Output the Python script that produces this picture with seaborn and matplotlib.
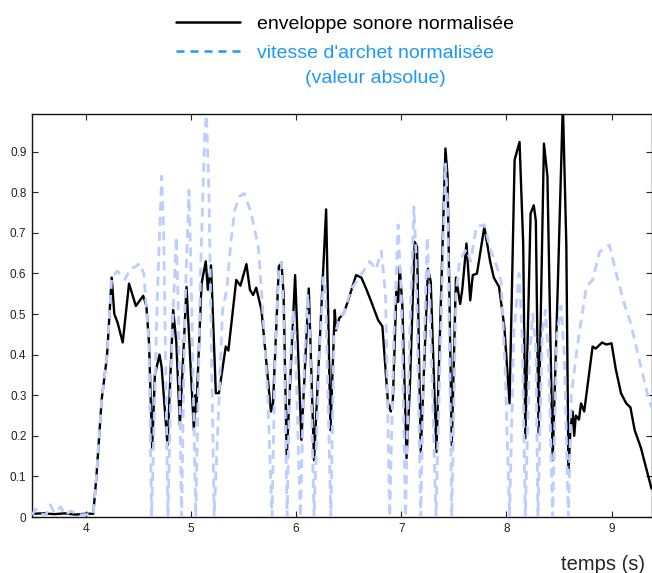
import numpy as np
import pandas as pd
import seaborn as sns
import matplotlib
matplotlib.use("Agg")
import matplotlib.pyplot as plt
from matplotlib.lines import Line2D

# ---------------- data ----------------
env_t = [3.49, 3.6, 3.7, 3.8, 3.9, 4.0, 4.07,
         4.10, 4.15, 4.20, 4.245, 4.27, 4.30, 4.35, 4.41, 4.475, 4.545, 4.575, 4.60, 4.63,
         4.656, 4.70, 4.72, 4.776, 4.83, 4.86, 4.894, 4.957, 4.99, 5.027, 5.04, 5.05,
         5.10, 5.14, 5.16, 5.19, 5.236, 5.265, 5.33, 5.355, 5.43, 5.47, 5.527, 5.56,
         5.59, 5.62, 5.67, 5.76, 5.78, 5.835, 5.86, 5.88, 5.91, 5.99, 6.05, 6.12, 6.17,
         6.285, 6.326, 6.367, 6.38, 6.41, 6.45, 6.49, 6.57, 6.62, 6.67, 6.715, 6.78,
         6.82, 6.874, 6.90, 6.92, 6.953, 6.97, 6.985, 7.01, 7.05, 7.08, 7.127, 7.15,
         7.185, 7.254, 7.28, 7.334, 7.42, 7.44, 7.48, 7.52, 7.56, 7.58, 7.62, 7.656,
         7.68, 7.72, 7.79, 7.845, 7.88, 7.93, 7.98, 8.03, 8.078, 8.125, 8.16, 8.18,
         8.23, 8.26, 8.28, 8.306, 8.357, 8.39, 8.44, 8.49, 8.537, 8.57, 8.59, 8.61,
         8.63, 8.645, 8.66, 8.69, 8.71, 8.74, 8.775, 8.82, 8.85, 8.91, 8.95, 9.0,
         9.04, 9.09, 9.14, 9.18, 9.22, 9.28, 9.38]
env_y = [0.008, 0.009, 0.007, 0.009, 0.006, 0.008, 0.008,
         0.10, 0.29, 0.395, 0.59, 0.50, 0.48, 0.43, 0.575, 0.52, 0.545, 0.52, 0.43, 0.17,
         0.35, 0.40, 0.37, 0.177, 0.51, 0.43, 0.226, 0.567, 0.40, 0.214, 0.30, 0.26,
         0.575, 0.63, 0.56, 0.62, 0.305, 0.305, 0.42, 0.41, 0.584, 0.57, 0.623, 0.56,
         0.547, 0.565, 0.51, 0.26, 0.28, 0.617, 0.627, 0.55, 0.149, 0.596, 0.19, 0.563, 0.14,
         0.758, 0.214, 0.51, 0.46, 0.49, 0.50, 0.53, 0.596, 0.59, 0.56, 0.53, 0.485,
         0.47, 0.28, 0.26, 0.29, 0.555, 0.53, 0.617, 0.52, 0.145, 0.31, 0.678, 0.666,
         0.16, 0.612, 0.58, 0.16, 0.908, 0.84, 0.177, 0.59, 0.525, 0.56, 0.674, 0.534,
         0.596, 0.60, 0.715, 0.63, 0.59, 0.567, 0.469, 0.28, 0.88, 0.924, 0.67, 0.194,
         0.748, 0.768, 0.73, 0.206, 0.92, 0.84, 0.14, 0.58, 1.02, 0.67, 0.112, 0.22,
         0.26, 0.20, 0.25, 0.24, 0.28, 0.26, 0.33, 0.42, 0.415, 0.43, 0.425, 0.428,
         0.365, 0.305, 0.28, 0.27, 0.214, 0.17, 0.07]

vel_t = [3.49, 3.52, 3.56, 3.62, 3.66, 3.70, 3.76, 3.80, 3.86, 3.92, 4.0, 4.07,
         4.10, 4.15, 4.20, 4.245, 4.30, 4.37, 4.42, 4.47, 4.51, 4.55, 4.58, 4.60,
         4.615, 4.625, 4.68, 4.72, 4.74, 4.78, 4.82, 4.86, 4.88, 4.91, 4.94, 4.98,
         5.00, 5.045, 5.09, 5.13, 5.147, 5.17, 5.22, 5.30, 5.34, 5.38, 5.416, 5.46,
         5.505, 5.53, 5.57, 5.64, 5.68, 5.73, 5.77, 5.80, 5.835, 5.86, 5.88, 5.914,
         5.94, 5.97, 5.99, 6.04, 6.08, 6.11, 6.13, 6.17, 6.22, 6.26, 6.28, 6.33,
         6.36, 6.38, 6.41, 6.45, 6.52, 6.60, 6.70, 6.76, 6.81, 6.85, 6.89, 6.93,
         6.97, 7.00, 7.04, 7.08, 7.12, 7.14, 7.185, 7.22, 7.247, 7.27, 7.33, 7.38,
         7.42, 7.44, 7.48, 7.52, 7.555, 7.62, 7.66, 7.714, 7.79, 7.85, 7.89, 7.95,
         7.99, 8.03, 8.07, 8.12, 8.15, 8.18, 8.22, 8.25, 8.28, 8.30, 8.34, 8.37,
         8.40, 8.44, 8.48, 8.52, 8.55, 8.59, 8.617, 8.68, 8.76, 8.82, 8.886, 8.98,
         9.045, 9.12, 9.18, 9.27, 9.345, 9.38]
vel_y = [0.005, 0.02, 0.008, 0.005, 0.03, 0.01, 0.025, 0.005, 0.015, 0.005, 0.006, 0.006,
         0.10, 0.29, 0.395, 0.59, 0.606, 0.585, 0.61, 0.617, 0.625, 0.60, 0.50, 0.43,
         0.15, 0.0, 0.55, 0.84, 0.70, 0.0, 0.45, 0.69, 0.50, 0.0, 0.50, 0.805,
         0.60, 0.0, 0.60, 0.95, 0.99, 0.80, 0.0, 0.51, 0.56, 0.68, 0.756, 0.79,
         0.797, 0.78, 0.75, 0.666, 0.52, 0.30, 0.0, 0.40, 0.617, 0.627, 0.50, 0.0,
         0.35, 0.51, 0.45, 0.0, 0.40, 0.55, 0.45, 0.0, 0.40, 0.59, 0.55, 0.0,
         0.45, 0.46, 0.49, 0.50, 0.56, 0.59, 0.63, 0.61, 0.655, 0.55, 0.0, 0.45,
         0.72, 0.55, 0.0, 0.45, 0.764, 0.65, 0.0, 0.45, 0.69, 0.55, 0.0, 0.50,
         0.87, 0.78, 0.0, 0.55, 0.633, 0.66, 0.63, 0.715, 0.72, 0.657, 0.633, 0.58,
         0.35, 0.0, 0.45, 0.60, 0.45, 0.0, 0.40, 0.50, 0.42, 0.0, 0.45, 0.51,
         0.40, 0.0, 0.45, 0.52, 0.40, 0.0, 0.30, 0.43, 0.567, 0.584, 0.653, 0.67,
         0.60, 0.526, 0.48, 0.38, 0.30, 0.27]

x_ticks = [4, 5, 6, 7, 8, 9]
y_ticks = [0, 0.1, 0.2, 0.3, 0.4, 0.5, 0.6, 0.7, 0.8, 0.9]
y_tick_labels = ["0", "0.1", "0.2", "0.3", "0.4", "0.5", "0.6", "0.7", "0.8", "0.9"]
label_env = "enveloppe sonore normalisée"
label_vel = "vitesse d'archet normalisée"
label_vel_2 = "(valeur absolue)"
x_label = "temps (s)"

# ---------------- style ----------------
sns.set_style("ticks")
plt.rcParams["font.family"] = ["Liberation Sans", "DejaVu Sans"]
plt.rcParams["xtick.direction"] = "in"
plt.rcParams["ytick.direction"] = "in"
plt.rcParams["xtick.top"] = True
plt.rcParams["ytick.right"] = True

env_df = pd.DataFrame({"t": env_t, "v": env_y})
vel_df = pd.DataFrame({"t": vel_t, "v": vel_y})

W, H = 652, 573
fig = plt.figure(figsize=(W / 100, H / 100), dpi=100)
ax = fig.add_axes([32 / W, 56 / H, 620 / W, 403 / H])

black = "#000000"
pale_blue = "#bccdff"
legend_blue = "#1c98fb"

sns.lineplot(data=env_df, x="t", y="v", ax=ax, color=black, linewidth=1.7,
             estimator=None, sort=False, legend=False, zorder=2)
sns.lineplot(data=vel_df, x="t", y="v", ax=ax, color=pale_blue, linewidth=2.0,
             estimator=None, sort=False, legend=False, zorder=3)
ax.lines[-1].set_linestyle((0, (3.2, 2.2)))

ax.set_xlim(3.487, 9.385)
ax.set_ylim(0, 0.993)
ax.set_xticks(x_ticks)
ax.set_xticklabels([str(v) for v in x_ticks])
ax.set_yticks(y_ticks)
ax.set_yticklabels(y_tick_labels)
ax.tick_params(axis="both", which="both", length=4, width=0.8, labelsize=8.5,
               colors="#222222", labelcolor="#222222", pad=4)
for s in ax.spines.values():
    s.set_visible(True)
    s.set_linewidth(1.0)
    s.set_color("#111111")
ax.set_xlabel("")
ax.set_ylabel("")

fig.text(0.99, -0.001, x_label, ha="right", va="bottom", fontsize=14.5)

handles = [Line2D([0], [0], color=black, linewidth=1.8),
           Line2D([0], [0], color=legend_blue, linewidth=1.8, linestyle=(0, (3.2, 2.4)))]
leg = fig.legend(handles, [label_env, label_vel], loc="upper left",
                 bbox_to_anchor=(164 / W, 1 - 4 / H), frameon=False, fontsize=14,
                 handlelength=3.3, handletextpad=0.9, labelspacing=0.55,
                 borderaxespad=0.2)
texts = leg.get_texts()
texts[0].set_color(black)
texts[1].set_color(legend_blue)

fig.canvas.draw()
bb = texts[1].get_window_extent()
cx = (bb.x0 + bb.x1) / 2 / W
cy = (bb.y0 + bb.y1) / 2 / H - 25 / H
fig.text(cx, cy, label_vel_2, ha="center", va="center", fontsize=14, color=legend_blue)

fig.savefig("out.png", dpi=100)
